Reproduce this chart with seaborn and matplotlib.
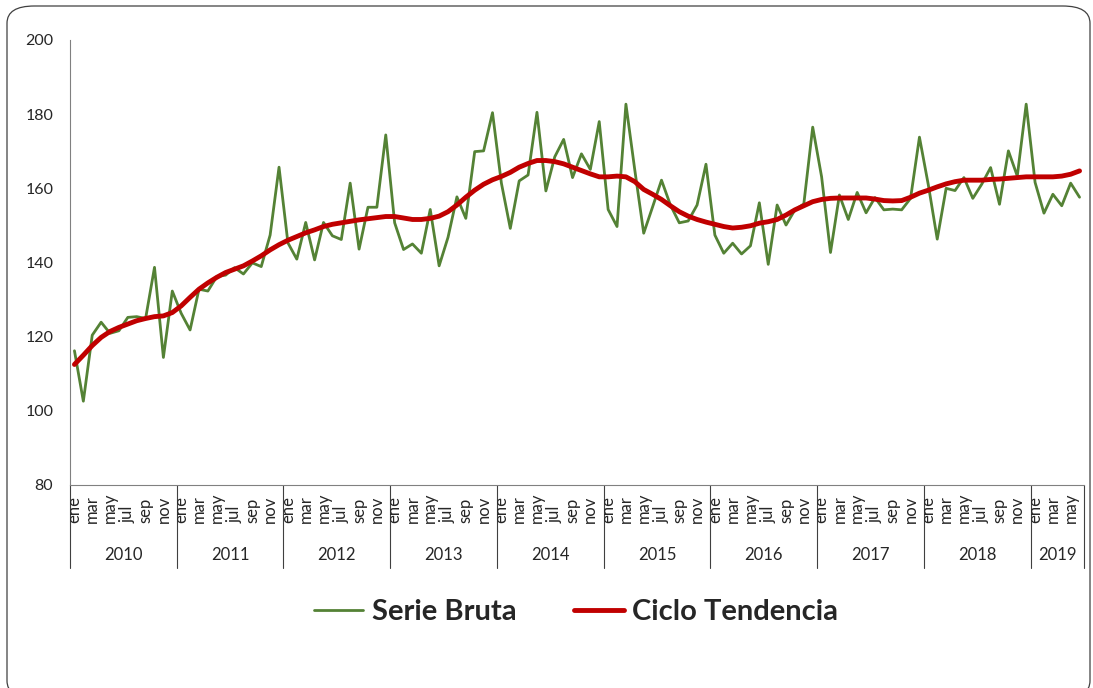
import pandas as pd
import seaborn as sns
import matplotlib.pyplot as plt
from matplotlib.patches import FancyBboxPatch
from matplotlib.lines import Line2D

# months shown on the axis (every second label is printed, like the original)
meses = ['ene', 'feb', 'mar', 'abr', 'may', 'jun', 'jul', 'ago', 'sep', 'oct', 'nov', 'dic']
anios = ['2010', '2011', '2012', '2013', '2014', '2015', '2016', '2017', '2018', '2019']
meses_por_anio = [12, 12, 12, 12, 12, 12, 12, 12, 12, 6]

serie_bruta = [
    116.2, 102.6, 120.4, 123.9, 120.9, 121.6, 125.2, 125.4, 124.9, 138.7, 114.4, 132.3,
    126.3, 121.8, 132.8, 132.3, 136.2, 136.6, 138.6, 136.9, 139.9, 138.9, 147.4, 165.7,
    145.3, 140.9, 150.8, 140.7, 150.8, 147.2, 146.2, 161.4, 143.6, 154.9, 154.9, 174.4,
    150.7, 143.5, 145.0, 142.5, 154.3, 139.1, 146.8, 157.7, 151.9, 169.9, 170.1, 180.4,
    161.4, 149.2, 162.0, 163.6, 180.5, 159.3, 168.5, 173.2, 162.9, 169.3, 165.1, 178.0,
    154.3, 149.7, 182.7, 164.9, 147.9, 155.0, 162.2, 155.5, 150.7, 151.2, 155.5, 166.5,
    147.4, 142.5, 145.2, 142.3, 144.5, 156.1, 139.5, 155.5, 150.1, 154.2, 155.8, 176.5,
    163.1, 142.7, 158.2, 151.6, 158.9, 153.4, 157.5, 154.2, 154.4, 154.2, 157.3, 173.8,
    160.9, 146.3, 160.0, 159.4, 162.9, 157.3, 161.1, 165.6, 155.7, 170.1, 163.3, 182.7,
    161.6, 153.3, 158.4, 155.3, 161.4, 157.6,
]

ciclo_tendencia = [
    112.5, 115.0, 117.6, 119.8, 121.4, 122.5, 123.4, 124.3, 124.9, 125.4, 125.6, 126.5,
    128.3, 130.6, 132.8, 134.5, 136.0, 137.3, 138.2, 139.1, 140.4, 141.8, 143.4, 144.8,
    146.0, 147.0, 148.0, 148.8, 149.7, 150.3, 150.7, 151.1, 151.5, 151.8, 152.1, 152.4,
    152.4, 152.0, 151.6, 151.6, 151.9, 152.5, 153.7, 155.5, 157.6, 159.5, 161.1, 162.3,
    163.2, 164.3, 165.7, 166.7, 167.5, 167.5, 167.2, 166.6, 165.7, 164.8, 163.9, 163.1,
    163.1, 163.3, 163.1, 161.8, 159.7, 158.4, 157.0, 155.3, 153.7, 152.5, 151.6, 150.9,
    150.3, 149.7, 149.3, 149.5, 149.9, 150.6, 151.0, 151.6, 152.8, 154.2, 155.3, 156.4,
    157.0, 157.3, 157.4, 157.4, 157.4, 157.4, 157.1, 156.7, 156.6, 156.7, 157.6, 158.7,
    159.5, 160.4, 161.2, 161.8, 162.2, 162.2, 162.2, 162.4, 162.5, 162.7, 162.9, 163.1,
    163.1, 163.1, 163.1, 163.3, 163.8, 164.7,
]

etiquetas = []
for n in meses_por_anio:
    etiquetas += meses[:n]

df = pd.DataFrame({'t': range(len(serie_bruta)),
                   'Serie Bruta': serie_bruta,
                   'Ciclo Tendencia': ciclo_tendencia})

verde = '#548235'
rojo = '#C00000'

sns.set_style('white')
plt.rcParams['font.family'] = ['Lato', 'DejaVu Sans']

fig = plt.figure(figsize=(10.93, 6.88), dpi=100)
ax = fig.add_axes([70 / 1093, 203 / 688, 1014 / 1093, 445 / 688])

sns.lineplot(data=df, x='t', y='Serie Bruta', color=verde, linewidth=2, ax=ax)
sns.lineplot(data=df, x='t', y='Ciclo Tendencia', color=rojo, linewidth=3.5, ax=ax)

ax.set_xlim(-0.5, len(serie_bruta) - 0.5)
ax.set_ylim(80, 200)
ax.set_yticks(range(80, 201, 20))
ax.set_xlabel('')
ax.set_ylabel('')
ax.tick_params(axis='y', labelsize=11.5, length=0, pad=12)
ax.set_xticks([])

for s in ['top', 'right']:
    ax.spines[s].set_visible(False)
ax.spines['left'].set_color('#808080')
ax.spines['bottom'].set_color('#808080')

trans = ax.get_xaxis_transform()

# month labels, every second one, anchored at their start like in Excel
for i in range(0, len(etiquetas), 2):
    ax.text(i, -0.086, etiquetas[i], transform=trans, rotation=90,
            ha='center', va='bottom', fontsize=12)

# year groups under the month labels
inicio = 0
for anio, n in zip(anios, meses_por_anio):
    ax.plot([inicio - 0.5, inicio - 0.5], [0, -0.187], transform=trans,
            color='#404040', linewidth=0.8, clip_on=False)
    ax.text(inicio + n / 2 - 0.5, -0.157, anio, transform=trans,
            ha='center', va='center', fontsize=12)
    inicio += n
ax.plot([inicio - 0.5, inicio - 0.5], [0, -0.187], transform=trans,
        color='#404040', linewidth=0.8, clip_on=False)

handles = [Line2D([], [], color=verde, linewidth=2),
           Line2D([], [], color=rojo, linewidth=3.5)]
fig.legend(handles, ['Serie Bruta', 'Ciclo Tendencia'], loc='center',
           bbox_to_anchor=(0.527, 0.11), ncol=2, frameon=False,
           prop={'weight': 'bold', 'size': 21}, handlelength=1.7,
           columnspacing=2.0, handletextpad=0.28)

borde = FancyBboxPatch((7 / 1093, -10 / 688), 1083 / 1093, 692 / 688,
                       boxstyle='round,pad=0,rounding_size=0.025',
                       transform=fig.transFigure, facecolor='none',
                       edgecolor='#404040', linewidth=0.9, clip_on=False)
fig.patches.append(borde)

fig.savefig('out.png', dpi=100)
